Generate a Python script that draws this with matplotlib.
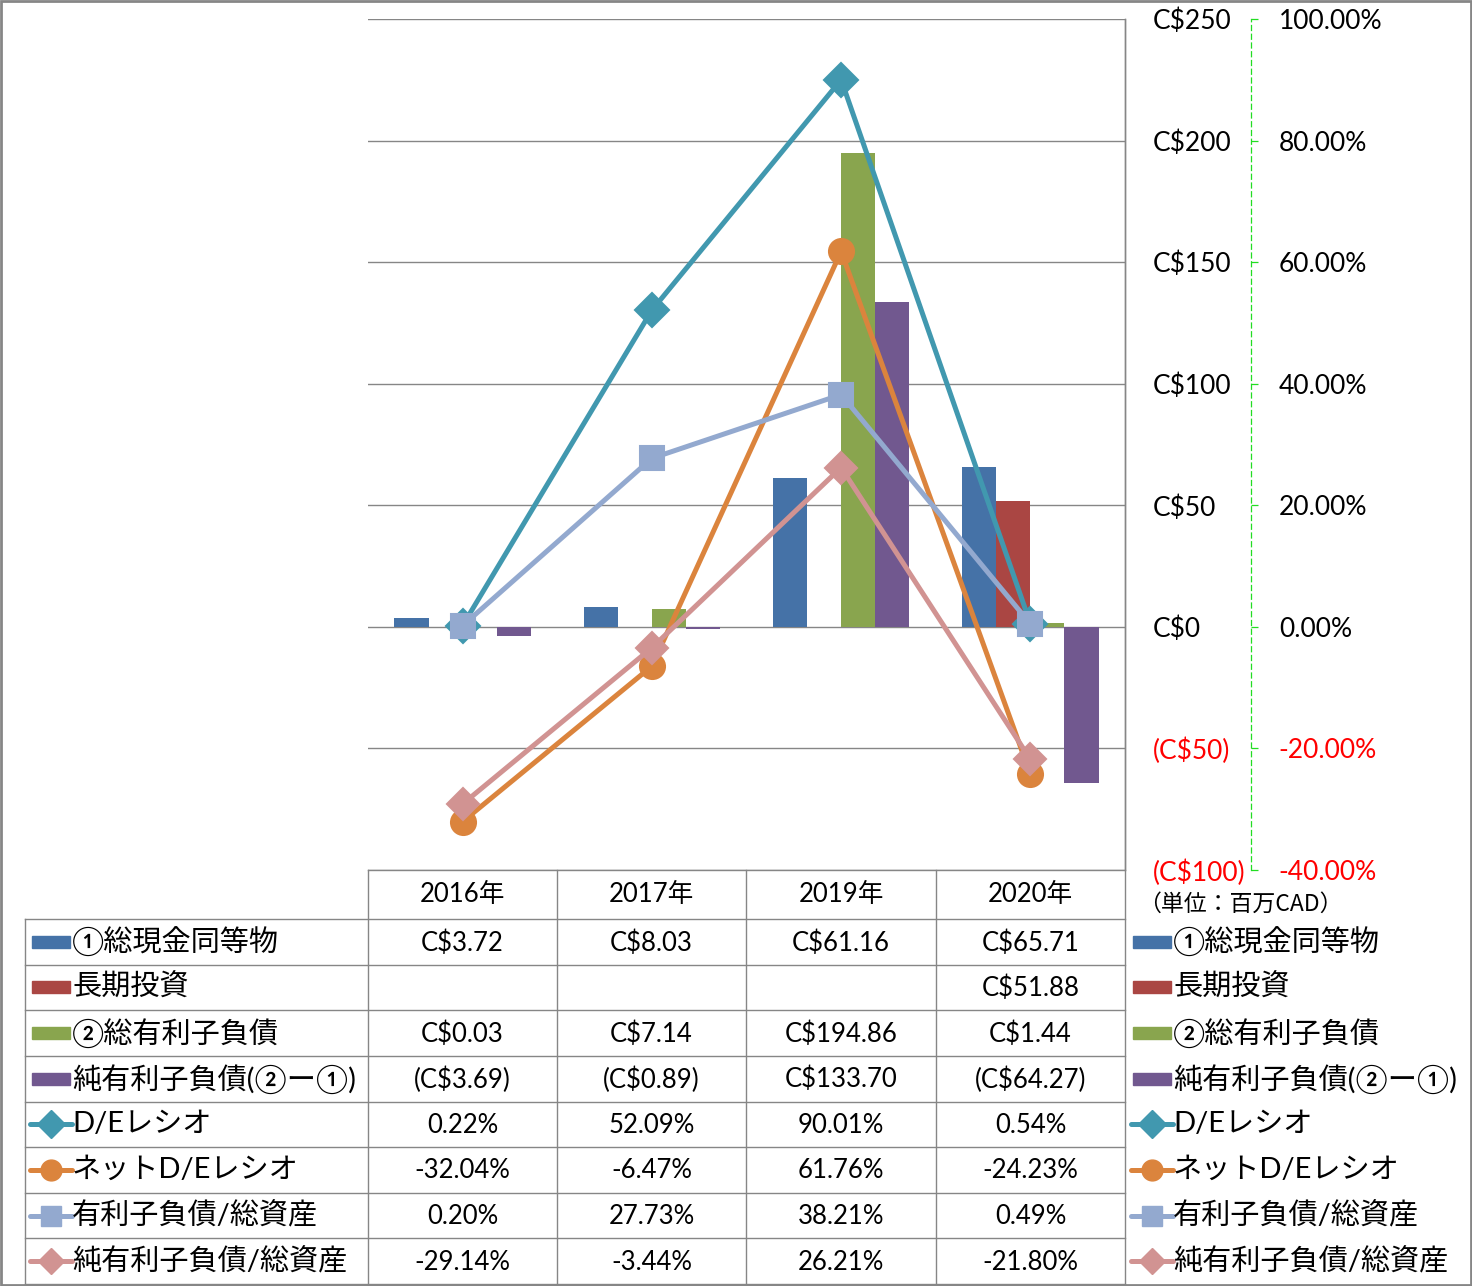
import numpy as np
import matplotlib
matplotlib.use("Agg")
import matplotlib.pyplot as plt
from matplotlib.ticker import FuncFormatter
from matplotlib.patches import Rectangle
from matplotlib.lines import Line2D

plt.rcParams['font.family'] = ['Lato', 'Noto Sans CJK JP', 'DejaVu Sans']

# data
years = ['2016年', '2017年', '2019年', '2020年']
cash = [3.72, 8.03, 61.16, 65.71]
lt_invest = [np.nan, np.nan, np.nan, 51.88]
debt = [0.03, 7.14, 194.86, 1.44]
net_debt = [-3.69, -0.89, 133.70, -64.27]
de_ratio = [0.22, 52.09, 90.01, 0.54]
net_de_ratio = [-32.04, -6.47, 61.76, -24.23]
debt_assets = [0.20, 27.73, 38.21, 0.49]
net_debt_assets = [-29.14, -3.44, 26.21, -21.80]

bar_names = ['①総現金同等物', '長期投資', '②総有利子負債', '純有利子負債(②ー①)']
bar_vals = [cash, lt_invest, debt, net_debt]
bar_colors = ['#4572A7', '#AA4643', '#89A54E', '#71588F']

line_names = ['D/Eレシオ', 'ネットD/Eレシオ', '有利子負債/総資産', '純有利子負債/総資産']
line_vals = [de_ratio, net_de_ratio, debt_assets, net_debt_assets]
line_colors = ['#4198AF', '#DB843D', '#93A9CF', '#D19392']
line_markers = ['D', 'o', 's', 'D']
marker_sizes = [17, 18, 17, 16]

W, H = 1472, 1286
DPI = 100
GRID = '#868686'
NUM_FS = 18.5
LAB_FS = 21
fig = plt.figure(figsize=(W / DPI, H / DPI), dpi=DPI)

# main chart
ax = fig.add_axes([368 / W, 1 - 870 / H, 757 / W, 851 / H])
ax.patch.set_visible(False)
x = np.arange(len(years))
bw = 0.18
for i, (vals, c) in enumerate(zip(bar_vals, bar_colors)):
    ax.bar(x + (i - 1.5) * bw, vals, width=bw, color=c, zorder=2)
ax.set_xlim(-0.5, 3.5)
ax.set_ylim(-100, 250)
ax.set_xticks([])
ax.grid(axis='y', color=GRID, lw=1.0)
ax.set_axisbelow(True)
for s in ['top', 'left', 'bottom']:
    ax.spines[s].set_visible(False)
ax.spines['right'].set_color(GRID)
ax.spines['right'].set_linewidth(1.0)

# secondary axis (ratios)
ax2 = ax.twinx()
ax2.set_ylim(-40, 100)
for i, (vals, c, m, ms) in enumerate(zip(line_vals, line_colors, line_markers, marker_sizes)):
    ax2.plot(x, vals, color=c, lw=3.6, marker=m, markersize=ms,
             markeredgewidth=1.5, markeredgecolor=c, solid_joinstyle='round', zorder=3 + i)
for s in ['top', 'left', 'bottom']:
    ax2.spines[s].set_visible(False)
ax2.spines['right'].set_position(('axes', (1251 - 368) / 757))
ax2.spines['right'].set_color('#22DD22')
ax2.spines['right'].set_linestyle((0, (4, 3)))
ax2.spines['right'].set_linewidth(0.9)
ax2.set_yticks(np.arange(-40, 101, 20))
ax2.yaxis.set_major_formatter(FuncFormatter(lambda v, p: f'{v:.2f}%'))
ax2.tick_params(axis='y', direction='out', length=5, width=0.9, color='#22DD22',
                pad=15, labelsize=19)
for lab, v in zip(ax2.get_yticklabels(), ax2.get_yticks()):
    lab.set_color('red' if v < 0 else 'black')

# primary ticks on the right (after twinx, which moves them left)
ax.set_yticks(np.arange(-100, 251, 50))
ax.yaxis.tick_right()
ax.yaxis.set_major_formatter(FuncFormatter(
    lambda v, p: f'C${v:.0f}' if v >= 0 else f'(C${-v:.0f})'))
ax.tick_params(axis='y', length=0, pad=28 * 72 / DPI, labelsize=19)
for lab, v in zip(ax.get_yticklabels(), ax.get_yticks()):
    lab.set_color('red' if v < 0 else 'black')

# data table + legend (pixel coordinates)
tb = fig.add_axes([0, 0, 1, 1], zorder=-1)
tb.set_xlim(0, W)
tb.set_ylim(H, 0)
tb.axis('off')

row_top = 919
row_h = (1284 - 919) / 8
col_edges = [368, 557, 746, 936, 1125]

tb.plot([368, 1125], [870, 870], color=GRID, lw=1.0)
for k in range(9):
    y = row_top + k * row_h
    tb.plot([25, 1125], [y, y], color=GRID, lw=1.0)
tb.plot([25, 25], [row_top, 1284], color=GRID, lw=1.0)
for cx in col_edges:
    tb.plot([cx, cx], [870 if cx < 1125 else 19, 1284], color=GRID, lw=1.0)

for j, yr in enumerate(years):
    cx = (col_edges[j] + col_edges[j + 1]) / 2
    tb.text(cx, 894, yr, ha='center', va='center', fontsize=NUM_FS)


def money(v):
    if np.isnan(v):
        return ''
    return f'C${v:.2f}' if v >= 0 else f'(C${-v:.2f})'


names = bar_names + line_names
rows = [[money(v) for v in vals] for vals in bar_vals] + \
       [[f'{v:.2f}%' for v in vals] for vals in line_vals]


def legend_key(x0, yc, i):
    if i < 4:
        tb.add_patch(Rectangle((x0 + 2, yc - 6), 38, 12, color=bar_colors[i]))
    else:
        k = i - 4
        tb.add_line(Line2D([x0, x0 + 42], [yc, yc], color=line_colors[k], lw=3.6,
                           solid_capstyle='round'))
        tb.plot([x0 + 21], [yc], marker=line_markers[k], color=line_colors[k],
                markersize=marker_sizes[k] - 3)


for i, (nm, vals) in enumerate(zip(names, rows)):
    yc = row_top + (i + 0.5) * row_h
    legend_key(30, yc, i)
    tb.text(72, yc, nm, ha='left', va='center', fontsize=LAB_FS)
    legend_key(1131, yc, i)
    tb.text(1173, yc, nm, ha='left', va='center', fontsize=LAB_FS)
    for j, s in enumerate(vals):
        cx = (col_edges[j] + col_edges[j + 1]) / 2
        tb.text(cx, yc + 1, s, ha='center', va='center', fontsize=NUM_FS)

tb.text(1138, 904, '（単位：百万CAD）', ha='left', va='center', fontsize=16.5,
        family=['Noto Sans CJK JP'])

# outer frame
tb.add_patch(Rectangle((1, 1), W - 2, H - 2, fill=False, ec=GRID, lw=2))

fig.savefig('out.png', dpi=DPI)
